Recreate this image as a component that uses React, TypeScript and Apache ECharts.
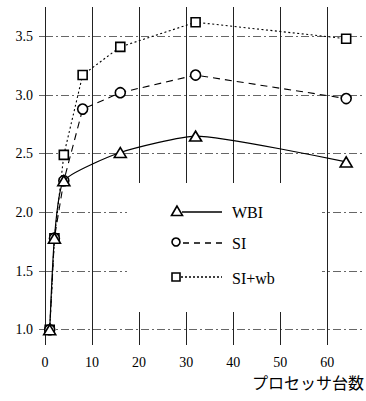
import React, { useEffect, useRef } from "react";
import * as echarts from "echarts";

const processors = [1, 2, 4, 8, 16, 32, 64];
const wbiValues = [1.0, 1.78, 2.27, null, 2.51, 2.65, 2.43];
const siValues = [1.0, 1.78, 2.27, 2.88, 3.02, 3.17, 2.97];
const siwbValues = [1.0, 1.78, 2.49, 3.17, 3.41, 3.62, 3.48];
const seriesNames = ["WBI", "SI", "SI+wb"];
const xAxisTitle = "プロセッサ台数";

const SERIF = '"Liberation Serif", "DejaVu Serif", "Times New Roman", serif';

export default function App() {
  const ref = useRef<HTMLDivElement>(null);
  useEffect(() => {
    if (!ref.current) return;
    const chart = echarts.init(ref.current, undefined, { renderer: "svg" });
    const pairs = (vals: (number | null)[]) =>
      processors.map((p, i) => [p, vals[i]]);
    const markerStyle = { color: "#fff", borderColor: "#000", borderWidth: 1.6 };
    chart.setOption({
      animation: false,
      backgroundColor: "#fff",
      grid: { left: 45, right: 1, top: 7, bottom: 56 },
      xAxis: {
        type: "value",
        min: 0,
        max: 68,
        interval: 10,
        axisLine: { show: false },
        axisTick: { show: false },
        axisLabel: {
          showMaxLabel: false,
          margin: 10,
          color: "#000",
          fontFamily: SERIF,
          fontSize: 14,
        },
        splitLine: {
          show: true,
          showMaxLine: false,
          lineStyle: { color: "#222", width: 1 },
        },
      },
      yAxis: {
        type: "value",
        min: 0.87,
        max: 3.75,
        splitNumber: 6,
        axisLine: { show: false },
        axisTick: {
          show: true,
          length: 9,
          lineStyle: { color: "#666", type: [6, 3] },
        },
        axisLabel: {
          showMinLabel: false,
          showMaxLabel: false,
          margin: 12,
          color: "#000",
          fontFamily: SERIF,
          fontSize: 14,
          formatter: (v: number) => v.toFixed(1),
        },
        splitLine: {
          show: true,
          showMinLine: false,
          showMaxLine: false,
          lineStyle: { color: "#666", width: 1, type: [8, 3, 2, 3] },
        },
      },
      series: [
        {
          name: seriesNames[2],
          type: "line",
          data: pairs(siwbValues),
          symbol: "rect",
          symbolSize: 9,
          itemStyle: markerStyle,
          lineStyle: { color: "#000", width: 1.1, type: [2, 2.5] },
          z: 2,
        },
        {
          name: seriesNames[1],
          type: "line",
          data: pairs(siValues),
          symbol: "circle",
          symbolSize: 10,
          itemStyle: markerStyle,
          lineStyle: { color: "#000", width: 1.1, type: [7, 5] },
          z: 3,
        },
        {
          name: seriesNames[0],
          type: "line",
          data: pairs(wbiValues),
          connectNulls: true,
          smooth: 0.18,
          symbol: "triangle",
          symbolSize: [12, 10],
          itemStyle: markerStyle,
          lineStyle: { color: "#000", width: 1.2 },
          z: 4,
        },
      ],
      graphic: [
        {
          type: "rect",
          z: 100,
          shape: { x: 127, y: 183, width: 195, height: 129 },
          style: { fill: "#fff" },
        },
        {
          type: "line",
          z: 101,
          shape: { x1: 182, y1: 212, x2: 222, y2: 212 },
          style: { stroke: "#000", lineWidth: 1.6 },
        },
        {
          type: "polygon",
          z: 102,
          shape: { points: [[177, 206], [171.5, 215.5], [182.5, 215.5]] },
          style: { fill: "#fff", stroke: "#000", lineWidth: 1.6 },
        },
        {
          type: "text",
          z: 101,
          style: {
            x: 232, y: 212, text: seriesNames[0], fill: "#000",
            font: `16px ${SERIF}`, textVerticalAlign: "middle",
          },
        },
        {
          type: "line",
          z: 101,
          shape: { x1: 183, y1: 243, x2: 222, y2: 243 },
          style: { stroke: "#000", lineWidth: 1.4, lineDash: [6, 5] },
        },
        {
          type: "circle",
          z: 102,
          shape: { cx: 176, cy: 242, r: 4 },
          style: { fill: "#fff", stroke: "#000", lineWidth: 1.6 },
        },
        {
          type: "text",
          z: 101,
          style: {
            x: 232, y: 243, text: seriesNames[1], fill: "#000",
            font: `16px ${SERIF}`, textVerticalAlign: "middle",
          },
        },
        {
          type: "line",
          z: 101,
          shape: { x1: 181, y1: 277, x2: 222, y2: 277 },
          style: { stroke: "#000", lineWidth: 1.3, lineDash: [2, 2] },
        },
        {
          type: "rect",
          z: 102,
          shape: { x: 172, y: 273, width: 8, height: 8 },
          style: { fill: "#fff", stroke: "#000", lineWidth: 1.6 },
        },
        {
          type: "text",
          z: 101,
          style: {
            x: 232, y: 278, text: seriesNames[2], fill: "#000",
            font: `16px ${SERIF}`, textVerticalAlign: "middle",
          },
        },
        {
          type: "text",
          z: 101,
          style: {
            x: 364, y: 382, text: xAxisTitle, fill: "#000",
            font: '16px "Noto Sans CJK JP", sans-serif',
            textAlign: "right", textVerticalAlign: "middle",
          },
        },
      ],
    });
    return () => chart.dispose();
  }, []);
  return (
    <div
      ref={ref}
      style={{ position: "absolute", left: 0, top: 0, width: 366, height: 401 }}
    />
  );
}
